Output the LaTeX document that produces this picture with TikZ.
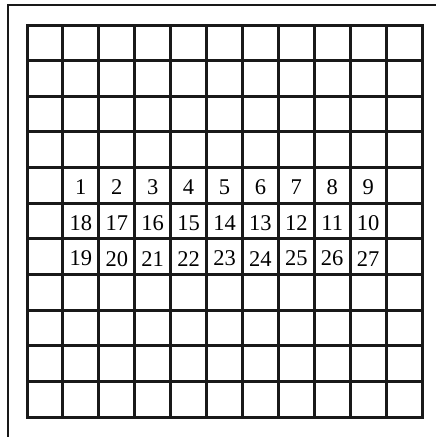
\documentclass[tikz,border=0pt]{standalone}
\usepackage{fontspec}
\setmainfont{Liberation Serif}
\begin{document}
\begin{tikzpicture}[x=1pt,y=-1pt,
  gridline/.style={line width=3pt,black!90},
  frameline/.style={line width=2.2pt,black!90},
  num/.style={font=\fontsize{22.5}{22.5}\selectfont,inner sep=0pt,anchor=center}]
\useasboundingbox (0,0) rectangle (436,437);
\clip (0,0) rectangle (436,437);
\draw[frameline] (8,440) -- (8,5) -- (440,5);
\def\xo{27}\def\yo{25}\def\dx{35.909}\def\dy{35.636}
\foreach \i in {0,...,11}{
  \draw[gridline,line cap=rect] ({\xo+\i*\dx},\yo) -- ({\xo+\i*\dx},{\yo+11*\dy});
  \draw[gridline,line cap=rect] (\xo,{\yo+\i*\dy}) -- ({\xo+11*\dx},{\yo+\i*\dy});
}
\foreach \c in {1,...,9}{
  \pgfmathtruncatemacro{\a}{\c}
  \pgfmathtruncatemacro{\b}{19-\c}
  \pgfmathtruncatemacro{\d}{18+\c}
  \node[num] (r1c\c) at ({\xo+(\c+0.5)*\dx},{\yo+4.5*\dy+2}) {\a};
  \node[num] (r2c\c) at ({\xo+(\c+0.5)*\dx},{\yo+5.5*\dy+2}) {\b};
  \node[num] (r3c\c) at ({\xo+(\c+0.5)*\dx},{\yo+6.5*\dy+2}) {\d};
}
\end{tikzpicture}
\end{document}
